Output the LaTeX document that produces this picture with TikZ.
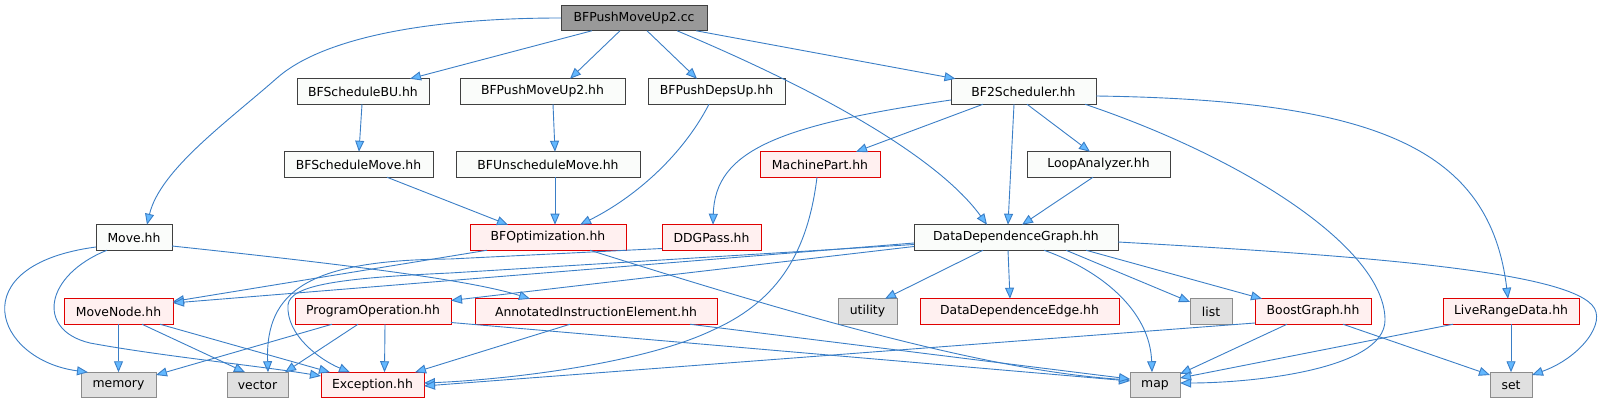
\documentclass[tikz,border=0pt]{standalone}
\usepackage{fontspec}
\setmainfont{DejaVu Sans}
\usetikzlibrary{arrows.meta}
\definecolor{edgecol}{HTML}{3A7EC6}
\definecolor{arrowcol}{HTML}{63B8FF}
\definecolor{truncfill}{HTML}{FFF0F0}
\definecolor{truncdraw}{HTML}{E00000}
\definecolor{sysfill}{HTML}{E0E0E0}
\definecolor{sysdraw}{HTML}{8C8C8C}
\definecolor{curfill}{HTML}{999999}
\definecolor{plaindraw}{HTML}{404040}
\definecolor{plainfill}{HTML}{FAFCFA}
\tikzset{
  box/.style={minimum height=25.5pt, inner sep=0pt, outer sep=0pt, line width=1pt,
    font=\fontsize{12.4}{14}\selectfont, text=black},
  plain/.style={box, draw=plaindraw, fill=plainfill},
  cur/.style={box, draw=plaindraw, fill=curfill},
  trunc/.style={box, draw=truncdraw, fill=truncfill},
  sys/.style={box, draw=sysdraw, fill=sysfill},
  edge/.style={draw=edgecol, line width=0.9pt,
    -{Triangle[length=11pt,width=9pt,fill=arrowcol]}},
}
\begin{document}
\begin{tikzpicture}[x=1pt,y=-1pt]
\useasboundingbox (0,0) rectangle (1621,403);
% nodes
\node[cur, minimum width=146pt] (cc) at (634,18) {BFPushMoveUp2.cc};
\node[plain, minimum width=132pt] (sbu) at (363,91.5) {BFScheduleBU.hh};
\node[plain, minimum width=165pt] (pmu) at (542.5,91.5) {BFPushMoveUp2.hh};
\node[plain, minimum width=137pt] (pdu) at (716.5,91.5) {BFPushDepsUp.hh};
\node[plain, minimum width=145pt] (bf2) at (1023.5,91.5) {BF2Scheduler.hh};
\node[plain, minimum width=149pt] (sm) at (358.5,164.5) {BFScheduleMove.hh};
\node[plain, minimum width=184pt] (usm) at (548,164.5) {BFUnscheduleMove.hh};
\node[trunc, minimum width=120pt] (mp) at (820,164.5) {MachinePart.hh};
\node[plain, minimum width=143pt] (la) at (1098.5,164.5) {LoopAnalyzer.hh};
\node[plain, minimum width=76pt] (mv) at (134,237.5) {Move.hh};
\node[trunc, minimum width=156pt] (bfo) at (548,237.5) {BFOptimization.hh};
\node[trunc, minimum width=99pt] (ddgp) at (711.5,237.5) {DDGPass.hh};
\node[plain, minimum width=204pt] (ddg) at (1016,237.5) {DataDependenceGraph.hh};
\node[trunc, minimum width=109pt] (mn) at (118.5,311.5) {MoveNode.hh};
\node[trunc, minimum width=156pt] (po) at (373,311.5) {ProgramOperation.hh};
\node[trunc, minimum width=242pt] (aie) at (596,311.5) {AnnotatedInstructionElement.hh};
\node[sys, minimum width=59pt] (util) at (867.5,311.5) {utility};
\node[trunc, minimum width=199pt] (dde) at (1019.5,311.5) {DataDependenceEdge.hh};
\node[sys, minimum width=42pt] (lst) at (1211,311.5) {list};
\node[trunc, minimum width=116pt] (bg) at (1313,311.5) {BoostGraph.hh};
\node[trunc, minimum width=136pt] (lrd) at (1511,311.5) {LiveRangeData.hh};
\node[sys, minimum width=75pt] (mem) at (118.5,385) {memory};
\node[sys, minimum width=61pt] (vec) at (257.5,385) {vector};
\node[trunc, minimum width=103pt] (exc) at (372.5,385) {Exception.hh};
\node[sys, minimum width=50pt] (map) at (1155,385) {map};
\node[sys, minimum width=42pt] (set) at (1511,385) {set};
% edges from BFPushMoveUp2.cc
\draw[edge] (cc.west) .. controls (420,18) and (320,40) .. (277,78) .. controls (227,122) and (160,170) .. ([xshift=13pt]mv.north);
\draw[edge] ([xshift=-42pt]cc.south) -- ([xshift=47pt]sbu.north);
\draw[edge] ([xshift=-14pt]cc.south) -- ([xshift=27.5pt]pmu.north);
\draw[edge] ([xshift=13pt]cc.south) -- ([xshift=-19.5pt]pdu.north);
\draw[edge] ([xshift=62pt]cc.south) -- ([xshift=-68pt]bf2.north);
\draw[edge] ([xshift=43pt]cc.south) .. controls (830,95) and (940,160) .. ([xshift=-29pt]ddg.north);
% second level
\draw[edge] ([xshift=-1pt]sbu.south) -- ([xshift=0.5pt]sm.north);
\draw[edge] ([xshift=10.5pt]pmu.south) -- ([xshift=7pt]usm.north);
\draw[edge] ([xshift=28.5pt]sm.south) -- ([xshift=-40pt]bfo.north);
\draw[edge] ([xshift=7pt]usm.south) -- ([xshift=7pt]bfo.north);
\draw[edge] ([xshift=-7.5pt]pdu.south) .. controls (680,160) and (630,200) .. ([xshift=32pt]bfo.north);
% BF2Scheduler
\draw[edge] ([yshift=-8.5pt]bf2.west) .. controls (780,125) and (715,150) .. ([xshift=1.5pt]ddgp.north);
\draw[edge] ([xshift=-40.5pt]bf2.south) -- ([xshift=36pt]mp.north);
\draw[edge] ([xshift=-9.5pt]bf2.south) -- ([xshift=-8pt]ddg.north);
\draw[edge] ([xshift=3.5pt]bf2.south) -- ([xshift=-8.5pt]la.north);
\draw[edge] ([yshift=-4.5pt]bf2.east) .. controls (1380,100) and (1490,150) .. ([xshift=-3pt]lrd.north);
\draw[edge] ([xshift=61.5pt]bf2.south) .. controls (1250,160) and (1385,250) .. (1385,320) .. controls (1385,370) and (1250,383) .. ([yshift=2pt]map.east);
\draw[edge] ([xshift=-5.5pt]la.south) -- ([xshift=6pt]ddg.north);
\draw[edge] ([xshift=-3pt]mp.south) .. controls (808,250) and (780,300) .. (713,330) .. controls (640,365) and (500,380) .. ([yshift=2pt]exc.east);
% BFOptimization, DDGPass
\draw[edge] ([xshift=-61pt]bfo.south) -- ([yshift=10pt]mn.east);
\draw[edge] ([xshift=42pt]bfo.south) .. controls (780,310) and (980,370) .. ([yshift=5pt]map.west);
\draw[edge] ([yshift=-11pt]ddgp.west) -- (450,259) .. controls (310,260) and (265,290) .. ([xshift=10.5pt]vec.north);
% Move.hh
\draw[edge] ([yshift=-9.5pt]mv.west) .. controls (-40,265) and (-5,360) .. ([xshift=-30.5pt]mem.north);
\draw[edge] ([xshift=-27pt]mv.south) .. controls (45,275) and (35,330) .. (90,343) .. controls (160,356) and (260,366) .. ([yshift=9pt]exc.west);
\draw[edge] ([yshift=-8.5pt]mv.east) .. controls (350,265) and (470,280) .. ([xshift=-66pt]aie.north);
% DataDependenceGraph
\draw[edge] ([yshift=-5.5pt]ddg.west) -- ([yshift=8.5pt]mn.east);
\draw[edge] ([yshift=-9pt]ddg.west) -- ([yshift=11pt]po.east);
\draw[edge] ([yshift=-7pt]ddg.west) -- (450,273) .. controls (340,278) and (290,285) .. (288,305) .. controls (286,335) and (320,360) .. ([xshift=-22.5pt]exc.north);
\draw[edge] ([xshift=-33pt]ddg.south) -- ([xshift=17.5pt]util.north);
\draw[edge] ([xshift=-8pt]ddg.south) -- ([xshift=-9.5pt]dde.north);
\draw[edge] ([xshift=28pt]ddg.south) .. controls (1100,270) and (1150,310) .. ([xshift=-3pt]map.north);
\draw[edge] ([xshift=50pt]ddg.south) -- ([yshift=9.5pt]lst.west);
\draw[edge] ([xshift=70pt]ddg.south) -- ([xshift=-51pt]bg.north);
\draw[edge] ([yshift=-4.5pt]ddg.east) .. controls (1350,255) and (1560,270) .. (1592,305) .. controls (1608,322) and (1580,358) .. ([yshift=10pt]set.east);
% MoveNode
\draw[edge] (mn.south) -- (mem.north);
\draw[edge] ([xshift=23.5pt]mn.south) -- ([xshift=-12.5pt]vec.north);
\draw[edge] ([xshift=41.5pt]mn.south) -- ([xshift=-42.5pt]exc.north);
% ProgramOperation
\draw[edge] ([xshift=-41pt]po.south) -- ([yshift=10pt]mem.east);
\draw[edge] ([xshift=-15pt]po.south) -- ([xshift=27.5pt]vec.north);
\draw[edge] ([xshift=12pt]po.south) -- ([xshift=12pt]exc.north);
\draw[edge] ([yshift=-11pt]po.east) -- ([yshift=4pt]map.west);
% AnnotatedInstructionElement
\draw[edge] ([xshift=-26pt]aie.south) -- ([xshift=42.5pt]exc.north);
\draw[edge] ([xshift=94pt]aie.south) -- ([yshift=6pt]map.west);
% BoostGraph
\draw[edge] ([yshift=-11.5pt]bg.west) -- ([yshift=-1pt]exc.east);
\draw[edge] ([xshift=-26pt]bg.south) -- ([yshift=11pt]map.east);
\draw[edge] ([xshift=30pt]bg.south) -- ([yshift=10pt]set.west);
% LiveRangeData
\draw[edge] ([xshift=-58pt]lrd.south) -- ([yshift=7pt]map.east);
\draw[edge] (lrd.south) -- (set.north);
\end{tikzpicture}
\end{document}
